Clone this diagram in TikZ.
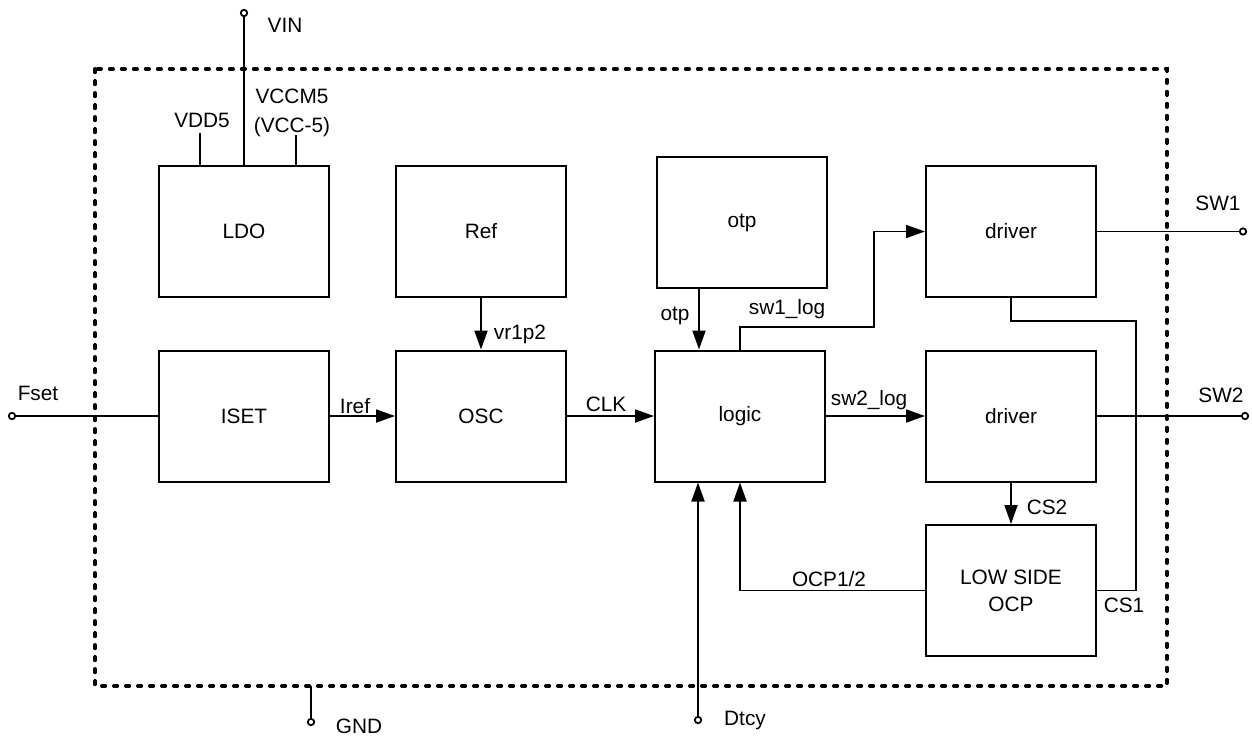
\documentclass[tikz,border=0pt]{standalone}
\usepackage{fontspec}
\setmainfont{Liberation Sans}
\usetikzlibrary{arrows.meta}
\begin{document}
\begin{tikzpicture}[x=0.5pt,y=-0.5pt,
  font=\fontsize{10.4pt}{12.5pt}\selectfont,
  blk/.style={draw, line width=1pt, minimum width=85pt, minimum height=65.5pt, inner sep=0pt, align=center},
  wire/.style={line width=0.95pt},
  arr/.style={wire, -{Triangle[length=9.5pt,width=6.5pt]}},
  term/.style={circle, draw, line width=0.9pt, fill=white, inner sep=0pt, minimum size=3.2pt},
  lbl/.style={inner sep=0pt, text height=7.3pt, text depth=0pt},
  border/.style={line width=2pt, dash pattern=on 1.6pt off 4.4pt, line cap=round}]
\useasboundingbox (0,0) rectangle (1252,745);
\draw[border] (95,69) rectangle (1167,686);
% blocks
\node[blk] (ldo) at (244,231.5) {LDO};
\node[blk] (ref) at (481,231.5) {Ref};
\node[blk] (otpb) at (742,222.5) {otp};
\node[blk] (drv1) at (1011,231.5) {driver};
\node[blk] (iset) at (244,416) {ISET};
\node[blk] (osc) at (481,416) {OSC};
\node[blk] (logic) at (740,416) {logic};
\node[blk] (drv2) at (1011,416) {driver};
\node[blk, font=\fontsize{10.4pt}{13.5pt}\selectfont] (ocp) at (1011,590.5) {LOW SIDE\\OCP};
% coordinates
\coordinate (vdd5) at (200,133);
\coordinate (vccm5) at (296,135);
\coordinate (otpx) at (699,0);
\coordinate (k1) at (874,327);
\coordinate (k2) at (1136,321);
\coordinate (gndb) at (311,686);
% wires
\draw[wire] (vdd5) -- (vdd5 |- ldo.north);
\draw[wire] (vccm5) -- (vccm5 |- ldo.north);
\draw[arr] (ref) -- (osc);
\draw[arr] (otpx |- otpb.south) -- (otpx |- logic.north);
\draw[arr] (logic.north) |- (k1) |- (drv1.west);
\draw[arr] (iset) -- (osc);
\draw[arr] (osc) -- (logic);
\draw[arr] (logic) -- (drv2);
\draw[arr] (drv2) -- (ocp);
\draw[arr] (ocp.west) -| (logic.south);
\draw[wire] (drv1.south) |- (k2) |- (ocp.east);
% terminals
\node[term] (vin) at (244,13) {};
\node[term] (fset) at (12,416) {};
\node[term] (sw1) at (1243,231.5) {};
\node[term] (sw2) at (1245,416) {};
\node[term] (gnd) at (311,722) {};
\node[term] (dtcy) at (698,720) {};
\draw[wire] (vin) -- (ldo.north);
\draw[wire] (fset) -- (iset);
\draw[wire] (drv1) -- (sw1);
\draw[wire] (drv2) -- (sw2);
\draw[wire] (gndb) -- (gnd);
\draw[arr] (dtcy) -- (dtcy |- logic.south);
% labels
\node[lbl] (lvin) at (285,25) {VIN};
\node[lbl] (lvdd5) at (202,120) {VDD5};
\node[lbl] (lvccm5) at (292,96) {VCCM5};
\node[lbl] (lvcc5) at (292,125) {(VCC-5)};
\node[lbl] (lvr) at (520,332) {vr1p2};
\node[lbl] (lotp) at (675,313) {otp};
\node[lbl] (lsw1log) at (787,307) {sw1\_log};
\node[lbl] (lsw1) at (1218,203) {SW1};
\node[lbl] (lfset) at (38,393) {Fset};
\node[lbl] (liref) at (355,406) {Iref};
\node[lbl] (lclk) at (606,404) {CLK};
\node[lbl] (lsw2log) at (869,398) {sw2\_log};
\node[lbl] (lsw2) at (1221,395) {SW2};
\node[lbl] (lcs2) at (1047,507) {CS2};
\node[lbl] (locp) at (829,579) {OCP1/2};
\node[lbl] (lcs1) at (1124,605) {CS1};
\node[lbl] (lgnd) at (359,726) {GND};
\node[lbl] (ldtcy) at (745,718) {Dtcy};
\end{tikzpicture}
\end{document}
